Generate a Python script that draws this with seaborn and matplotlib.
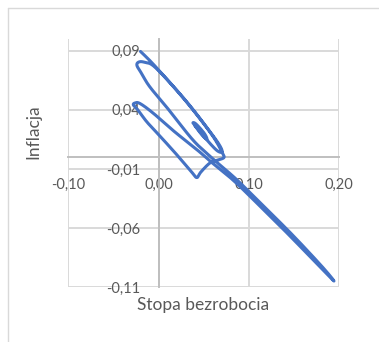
import numpy as np
import pandas as pd
import matplotlib
matplotlib.use("Agg")
import matplotlib.pyplot as plt
from matplotlib.lines import Line2D
import seaborn as sns

# Trajectory of unemployment rate vs inflation (in order of observation)
unemployment = [
    -0.0201, -0.0041, 0.0291, 0.0568, 0.0679, 0.0706, 0.0723, 0.0657,
    0.0568, 0.0468, 0.0424, 0.0369, 0.0203, 0.0014, -0.0130, -0.0229,
    -0.0279, -0.0262, -0.0207, -0.0063, 0.0180, 0.0402, 0.0568, 0.0823,
    0.1121, 0.1454, 0.1786, 0.1941, 0.1808, 0.1476, 0.1143, 0.0856,
    0.0590, 0.0380, 0.0114, -0.0096, -0.0185, -0.0240, -0.0218, -0.0152,
    -0.0030, 0.0302, 0.0579, 0.0679, 0.0701, 0.0645, 0.0535, 0.0424,
    0.0380, 0.0413, 0.0502, 0.0535, 0.0490, 0.0424, 0.0402, 0.0446,
    0.0490, 0.0457,
]
inflation = [
    0.0894, 0.0771, 0.0484, 0.0213, 0.0078, 0.0036, -0.0003, -0.0024,
    -0.0049, -0.0125, -0.0172, -0.0129, 0.0019, 0.0179, 0.0298, 0.0399,
    0.0441, 0.0458, 0.0454, 0.0374, 0.0213, 0.0078, -0.0032, -0.0193,
    -0.0413, -0.0666, -0.0928, -0.1047, -0.0924, -0.0653, -0.0400, -0.0184,
    -0.0007, 0.0145, 0.0399, 0.0593, 0.0703, 0.0775, 0.0805, 0.0801,
    0.0754, 0.0476, 0.0205, 0.0095, 0.0044, 0.0057, 0.0145, 0.0247,
    0.0289, 0.0281, 0.0205, 0.0154, 0.0179, 0.0243, 0.0268, 0.0238,
    0.0192, 0.0221,
]

x_ticks = [-0.10, 0.00, 0.10, 0.20]
x_tick_labels = ["-0,10", "0,00", "0,10", "0,20"]
y_ticks = [-0.11, -0.06, -0.01, 0.04, 0.09]
y_tick_labels = ["-0,11", "-0,06", "-0,01", "0,04", "0,09"]

x_title = "Stopa bezrobocia"
y_title = "Inflacja"

sns.set_theme(style="white")
plt.rcParams["font.family"] = ["Lato", "DejaVu Sans"]

TEXT = "#595959"
GRID = "#d9d9d9"
AXIS = "#bfbfbf"
LINE = "#4472C4"

W, H = 379, 342
fig = plt.figure(figsize=(W / 100, H / 100), dpi=100)
fig.patch.set_facecolor("white")

left, right, top, bottom = 68.3, 339.3, 38.9, 287.3
ax = fig.add_axes([left / W, (H - bottom) / H, (right - left) / W, (bottom - top) / H])
ax.set_facecolor("white")
ax.set_xlim(-0.10, 0.20)
ax.set_ylim(-0.11, 0.10)

# pixel scale of each axis, so smoothing happens in screen space
kx = (right - left) / 0.30
ky = (bottom - top) / 0.21


def smooth_line(xs, ys, steps=24):
    """Cubic Bezier smoothing through every point (scatter 'smoothed line')."""
    pts = np.column_stack([np.asarray(xs) * kx, np.asarray(ys) * ky])
    n = len(pts)
    out = [pts[0]]
    t = np.linspace(0, 1, steps)[1:, None]
    for i in range(n - 1):
        p0 = pts[i - 1] if i > 0 else pts[i]
        p1, p2 = pts[i], pts[i + 1]
        p3 = pts[i + 2] if i + 2 < n else pts[i + 1]
        c1 = p1 + (p2 - p0) / 6
        c2 = p2 - (p3 - p1) / 6
        seg = ((1 - t) ** 3) * p1 + 3 * ((1 - t) ** 2) * t * c1 \
            + 3 * (1 - t) * t ** 2 * c2 + t ** 3 * p2
        out.extend(seg)
    out = np.array(out)
    return out[:, 0] / kx, out[:, 1] / ky


sx, sy = smooth_line(unemployment, inflation)
curve = pd.DataFrame({"u": sx, "i": sy})
sns.lineplot(data=curve, x="u", y="i", sort=False, estimator=None,
             color=LINE, linewidth=2.2, ax=ax, zorder=3)

ax.set_xticks(x_ticks)
ax.set_xticklabels(x_tick_labels)
ax.set_yticks(y_ticks)
ax.set_yticklabels(y_tick_labels)
ax.set_xlabel("")
ax.set_ylabel("")

ax.grid(True, color=GRID, linewidth=1.4)
ax.set_axisbelow(True)
for gl in ax.get_xgridlines() + ax.get_ygridlines():
    gl.set_clip_on(False)

for side in ("top", "right"):
    ax.spines[side].set_visible(False)
ax.spines["left"].set_position(("data", 0))
ax.spines["bottom"].set_position(("data", 0))
for side in ("left", "bottom"):
    ax.spines[side].set_color(AXIS)
    ax.spines[side].set_linewidth(1.4)
    ax.spines[side].set_zorder(1)

ax.tick_params(axis="both", length=0, labelsize=10.5, labelcolor=TEXT)
ax.tick_params(axis="y", pad=13)
ax.tick_params(axis="x", pad=15)

fig.text(33 / W, 1 - 132 / H, y_title, rotation=90, ha="center", va="center",
         fontsize=12.5, color=TEXT)
fig.text(203 / W, 1 - 305 / H, x_title, ha="center", va="center",
         fontsize=12.5, color=TEXT)

# chart-area border
fig.add_artist(Line2D([7.5 / W, 7.5 / W], [0, 1 - 8.3 / H],
                      transform=fig.transFigure, color=GRID, linewidth=1))
fig.add_artist(Line2D([7.5 / W, 1], [1 - 8.3 / H, 1 - 8.3 / H],
                      transform=fig.transFigure, color=GRID, linewidth=1))

fig.savefig("out.png", dpi=100, facecolor="white")
